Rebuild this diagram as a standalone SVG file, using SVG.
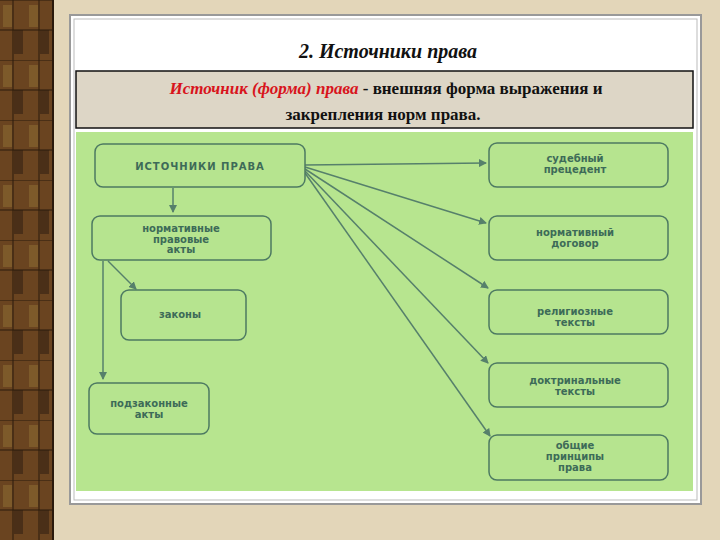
<svg xmlns="http://www.w3.org/2000/svg" width="720" height="540" viewBox="0 0 720 540">
<style>
.n{fill:#b6e48f;stroke:#4d7a62;stroke-width:1.5}
.t{font-family:"DejaVu Sans",sans-serif;font-weight:bold;font-size:10px;fill:#3d6b58;text-anchor:middle}
.c{stroke:#56806b;stroke-width:1.5;fill:none;marker-end:url(#a)}
</style>
<defs>
<marker id="a" markerWidth="8" markerHeight="8" refX="7" refY="4" orient="auto" markerUnits="userSpaceOnUse"><path d="M0,0L8,4L0,8Z" fill="#56806b"/></marker>
<pattern id="w" width="26" height="60" patternUnits="userSpaceOnUse"><rect width="26" height="60" fill="#6a4420"/><rect x="3" y="5" width="9" height="22" fill="#7d5a2a"/><rect x="14" y="30" width="9" height="24" fill="#4a2f18"/><path d="M0,0H26M0,30H26M13,0V60" stroke="#2a1a0c" stroke-width="1"/></pattern>
</defs>
<rect width="720" height="540" fill="#e3d6b9"/>
<rect x="0" y="0" width="52" height="540" fill="url(#w)"/>
<rect x="52" y="0" width="2" height="540" fill="#2a1a0c"/>
<rect x="70" y="15" width="631" height="489" fill="#fff" stroke="#999" stroke-width="2"/>
<rect x="74" y="19" width="623" height="481" fill="#fff" stroke="#bbb" stroke-width="1"/>
<text x="388" y="58" font-family="Liberation Serif,serif" font-style="italic" font-weight="bold" font-size="20" text-anchor="middle" fill="#111">2. Источники права</text>
<rect x="76" y="71" width="617" height="57" fill="#ddd6c6" stroke="#111" stroke-width="1.5"/>
<text x="386" y="94" font-family="Liberation Serif,serif" font-weight="bold" font-size="17" text-anchor="middle" fill="#111"><tspan fill="#d8141c" font-style="italic">Источник (форма) права</tspan> - внешняя форма выражения и</text>
<text x="383" y="120" font-family="Liberation Serif,serif" font-weight="bold" font-size="17" text-anchor="middle" fill="#111">закрепления норм права.</text>
<rect x="76" y="132" width="617" height="359" fill="#b7e58f"/>
<g id="connectors">
<path class="c" d="M173,188V212"/>
<path class="c" d="M108,261L136,289"/>
<path class="c" d="M103,261V379"/>
<path class="c" d="M305,165L486,163"/>
<path class="c" d="M305,167L486,223"/>
<path class="c" d="M305,169L488,288"/>
<path class="c" d="M305,171L488,363"/>
<path class="c" d="M305,173L490,436"/>
</g>
<g id="n1"><rect class="n" x="95" y="144" width="210" height="43" rx="8" stroke-width="3"/><text class="t" x="200" y="170" font-size="13" font-weight="normal" letter-spacing="1">ИСТОЧНИКИ  ПРАВА</text></g>
<g id="n2"><rect class="n" x="92" y="216" width="179" height="44" rx="8"/><text class="t" x="181" y="232">нормативные<tspan x="181" dy="10.5">правовые</tspan><tspan x="181" dy="10.5">акты</tspan></text></g>
<g id="n3"><rect class="n" x="121" y="290" width="125" height="50" rx="8"/><text class="t" x="180" y="318" font-size="11">законы</text></g>
<g id="n4"><rect class="n" x="89" y="383" width="120" height="51" rx="8"/><text class="t" x="149" y="407">подзаконные<tspan x="149" dy="11">акты</tspan></text></g>
<g id="n5"><rect class="n" x="489" y="143" width="179" height="44" rx="8"/><text class="t" x="575" y="162">судебный<tspan x="575" dy="11">прецедент</tspan></text></g>
<g id="n6"><rect class="n" x="489" y="216" width="179" height="44" rx="8"/><text class="t" x="575" y="236">нормативный<tspan x="575" dy="11">договор</tspan></text></g>
<g id="n7"><rect class="n" x="489" y="290" width="179" height="44" rx="8"/><text class="t" x="575" y="315">религиозные<tspan x="575" dy="11">тексты</tspan></text></g>
<g id="n8"><rect class="n" x="489" y="363" width="179" height="44" rx="8"/><text class="t" x="575" y="384">доктринальные<tspan x="575" dy="11">тексты</tspan></text></g>
<g id="n9"><rect class="n" x="489" y="435" width="179" height="45" rx="8"/><text class="t" x="575" y="449">общие<tspan x="575" dy="11">принципы</tspan><tspan x="575" dy="11">права</tspan></text></g>
</svg>
